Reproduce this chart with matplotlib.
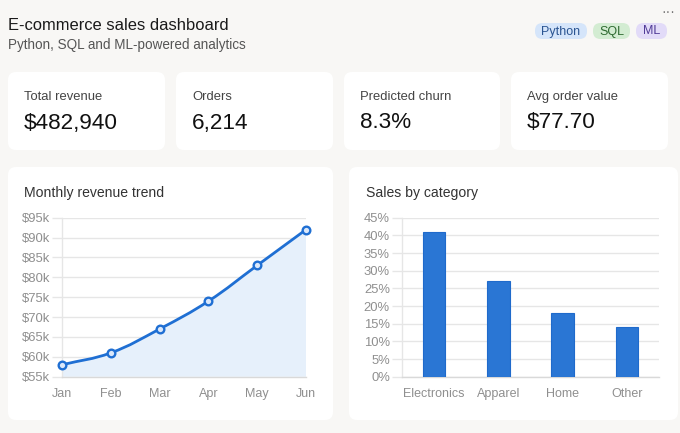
import matplotlib
matplotlib.use("Agg")
import matplotlib.pyplot as plt
from matplotlib.patches import FancyBboxPatch, PathPatch
from matplotlib.path import Path
from matplotlib.ticker import FuncFormatter, MultipleLocator
import numpy as np

# ---------------- data ----------------
title = "E-commerce sales dashboard"
subtitle = "Python, SQL and ML-powered analytics"
tags = ["Python", "SQL", "ML"]
kpi_labels = ["Total revenue", "Orders", "Predicted churn", "Avg order value"]
kpi_values = ["$482,940", "6,214", "8.3%", "$77.70"]
months = ["Jan", "Feb", "Mar", "Apr", "May", "Jun"]
revenue_k = [58, 61, 67, 74, 83, 92]
categories = ["Electronics", "Apparel", "Home", "Other"]
share_pct = [41, 27, 18, 14]

# ---------------- style ----------------
W, H = 680, 433
BG = "#f8f7f5"
CARD = "#ffffff"
BLUE = "#2a76d4"
LINE_BLUE = "#1f6fd3"
FILL_BLUE = "#e6f0fb"
GRID = "#e6e6e6"
TICK = "#8f8f8f"
FONT = ["Liberation Sans", "DejaVu Sans"]
plt.rcParams["font.family"] = FONT

def pt(px):
    return px * 0.72

fig = plt.figure(figsize=(W / 100, H / 100), dpi=100, facecolor=BG)
bg = fig.add_axes([0, 0, 1, 1], zorder=0)
bg.set_xlim(0, W)
bg.set_ylim(H, 0)
bg.axis("off")
bg.set_facecolor(BG)

def card(x0, y0, x1, y1, r=8):
    p = FancyBboxPatch((x0 + r, y0 + r), (x1 - x0) - 2 * r, (y1 - y0) - 2 * r,
                       boxstyle=f"round,pad={r},rounding_size={r}",
                       fc=CARD, ec="none", zorder=1)
    bg.add_patch(p)

# header
bg.text(8, 30, title, fontsize=pt(16.5), color="#1a1a1a", va="baseline", ha="left", zorder=3)
bg.text(8, 48.5, subtitle, fontsize=pt(13.5), color="#555555", va="baseline", ha="left", zorder=3)

pill_x = [(535, 587), (593, 630), (636, 667)]
pill_bg = ["#d5e5fa", "#d3ecd2", "#e2dbf8"]
pill_fg = ["#2b5592", "#2e6a30", "#523c98"]
for (x0, x1), t, b, f in zip(pill_x, tags, pill_bg, pill_fg):
    p = FancyBboxPatch((x0, 23), (x1 - x0), 16,
                       boxstyle="round,pad=0,rounding_size=7.5", fc=b, ec="none", zorder=2)
    bg.add_patch(p)
    bg.text((x0 + x1) / 2, 31.5, t, fontsize=pt(12.5), color=f, ha="center", va="center", zorder=3)

bg.text(668, 12, "···", fontsize=pt(14), color="#777777", ha="center", va="center", zorder=3)

# KPI cards
kpi_x = [(8, 165), (176, 333), (344, 500), (511, 668)]
for (x0, x1), lab, val in zip(kpi_x, kpi_labels, kpi_values):
    card(x0, 72, x1, 150)
    bg.text(x0 + 16, 100, lab, fontsize=pt(13), color="#444444", va="baseline", zorder=3)
    bg.text(x0 + 16, 128.5, val, fontsize=pt(22.5), color="#111111", va="baseline", zorder=3)

# chart cards
card(8, 167, 333, 420)
card(349, 167, 678, 420)
bg.text(24, 197.5, "Monthly revenue trend", fontsize=pt(14), color="#333333", va="baseline", zorder=3)
bg.text(366, 197.5, "Sales by category", fontsize=pt(14), color="#333333", va="baseline", zorder=3)

def fig_rect(x0, y0, x1, y1):
    return [x0 / W, 1 - y1 / H, (x1 - x0) / W, (y1 - y0) / H]

def style_axes(ax):
    ax.set_facecolor("none")
    for s in ["top", "right"]:
        ax.spines[s].set_visible(False)
    ax.spines["left"].set_color(GRID)
    ax.spines["bottom"].set_color("#d9d9d9")
    ax.spines["left"].set_linewidth(1)
    ax.spines["bottom"].set_linewidth(1)
    ax.grid(axis="y", color=GRID, linewidth=1)
    ax.set_axisbelow(True)
    ax.tick_params(axis="y", length=7.5, width=1, color=GRID, pad=1,
                   labelsize=pt(13), labelcolor=TICK)
    ax.tick_params(axis="x", length=0, pad=8, labelsize=pt(12.5), labelcolor=TICK)

# ---------------- line chart ----------------
ax1 = fig.add_axes(fig_rect(62, 217.7, 306, 376.7), zorder=2)
style_axes(ax1)
xs = np.arange(len(months))
ax1.set_xlim(0, len(months) - 1)
ax1.set_ylim(55, 95)
ax1.yaxis.set_major_locator(MultipleLocator(5))
ax1.yaxis.set_major_formatter(FuncFormatter(lambda v, p: f"${v:.0f}k"))
ax1.set_xticks(xs)
ax1.set_xticklabels(months)

# smooth bezier path (Chart.js-like tension) computed in display space
fig.canvas.draw()
disp = ax1.transData.transform(np.column_stack([xs, revenue_k]))
tension = 0.4
n = len(disp)
cps = []
for i in range(n):
    prev = disp[i - 1] if i > 0 else disp[i]
    cur = disp[i]
    nxt = disp[i + 1] if i < n - 1 else disp[i]
    d01 = np.hypot(*(cur - prev))
    d12 = np.hypot(*(nxt - cur))
    s = d01 + d12
    fa = tension * d01 / s if s else 0
    fb = tension * d12 / s if s else 0
    cps.append((cur - fa * (nxt - prev), cur + fb * (nxt - prev)))
verts = [disp[0]]
codes = [Path.MOVETO]
for i in range(n - 1):
    verts += [cps[i][1], cps[i + 1][0], disp[i + 1]]
    codes += [Path.CURVE4] * 3
inv = ax1.transData.inverted()
verts_d = inv.transform(np.array(verts))
line_path = Path(verts_d, codes)
ax1.add_patch(PathPatch(line_path, fc="none", ec=LINE_BLUE, lw=2, zorder=3))
fill_verts = list(verts_d) + [(xs[-1], 55), (xs[0], 55), verts_d[0]]
fill_codes = codes + [Path.LINETO, Path.LINETO, Path.CLOSEPOLY]
ax1.add_patch(PathPatch(Path(fill_verts, fill_codes), fc=FILL_BLUE, ec="none", zorder=1))
ax1.plot(xs, revenue_k, linestyle="none", marker="o", markersize=5.5,
         markerfacecolor="#dbe8fa", markeredgecolor=LINE_BLUE, markeredgewidth=1.7,
         zorder=4, clip_on=False)

# ---------------- bar chart ----------------
ax2 = fig.add_axes(fig_rect(401.7, 217.7, 659.4, 376.7), zorder=2)
style_axes(ax2)
cx = np.arange(len(categories))
ax2.bar(cx, share_pct, width=0.35, color=BLUE, edgecolor="#1f6acb", linewidth=0.8, zorder=3)
ax2.set_xlim(-0.5, len(categories) - 0.5)
ax2.set_ylim(0, 45)
ax2.yaxis.set_major_locator(MultipleLocator(5))
ax2.yaxis.set_major_formatter(FuncFormatter(lambda v, p: f"{v:.0f}%"))
ax2.set_xticks(cx)
ax2.set_xticklabels(categories)

fig.savefig("out.png", dpi=100, facecolor=BG)
